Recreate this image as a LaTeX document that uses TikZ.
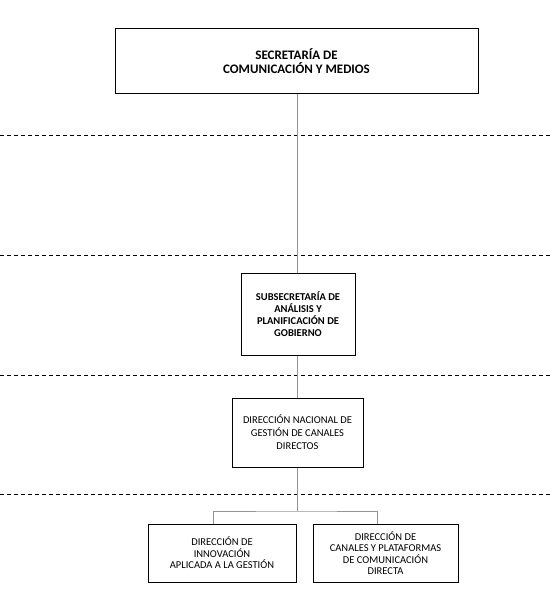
\documentclass[tikz,border=0pt]{standalone}
\usepackage{fontspec}
\setmainfont{Carlito}
\begin{document}
\begin{tikzpicture}[x=1pt,y=-1pt,
  box/.style={draw=black,line width=1pt,fill=white,inner sep=0pt,align=center,text=black},
  conn/.style={draw=gray!85,line width=0.8pt},
  sep/.style={draw=black,dashed,dash pattern=on 4pt off 3pt,line width=0.7pt}]
\useasboundingbox (0,0) rectangle (551,601);
\foreach \yy in {135,255,375,494} \draw[sep] (0,\yy) -- (551,\yy);
\node[box,minimum width=363pt,minimum height=65pt,font=\fontsize{13}{14}\selectfont\bfseries] (sec) at (296.5,61.5) {SECRETARÍA DE\\COMUNICACIÓN Y MEDIOS};
\node[box,minimum width=114pt,minimum height=82pt,font=\fontsize{10.5}{12}\selectfont\bfseries] (sub) at (298,314) {SUBSECRETARÍA DE\\ANÁLISIS Y\\PLANIFICACIÓN DE\\GOBIERNO};
\node[box,minimum width=131pt,minimum height=69pt,font=\fontsize{10.5}{13}\selectfont] (dir) at (297.5,432.5) {DIRECCIÓN NACIONAL DE\\GESTIÓN DE CANALES\\DIRECTOS};
\node[box,minimum width=148pt,minimum height=58pt,font=\fontsize{10.5}{11.5}\selectfont] (inn) at (222,553) {DIRECCIÓN DE\\INNOVACIÓN\\APLICADA A LA GESTIÓN};
\node[box,minimum width=145pt,minimum height=58pt,font=\fontsize{10.5}{11.5}\selectfont] (can) at (385.5,553) {DIRECCIÓN DE\\CANALES Y PLATAFORMAS\\DE COMUNICACIÓN\\DIRECTA};
\coordinate (br) at (297,511);
\draw[conn] (sec.south -| 297,0) -- (sub.north -| 297,0);
\draw[conn] (sub.south -| 297,0) -- (dir.north -| 297,0);
\draw[conn] (dir.south -| 297,0) -- (br);
\draw[conn] (inn.north -| 213,0) |- (br) -| (can.north -| 377,0);
\end{tikzpicture}
\end{document}
